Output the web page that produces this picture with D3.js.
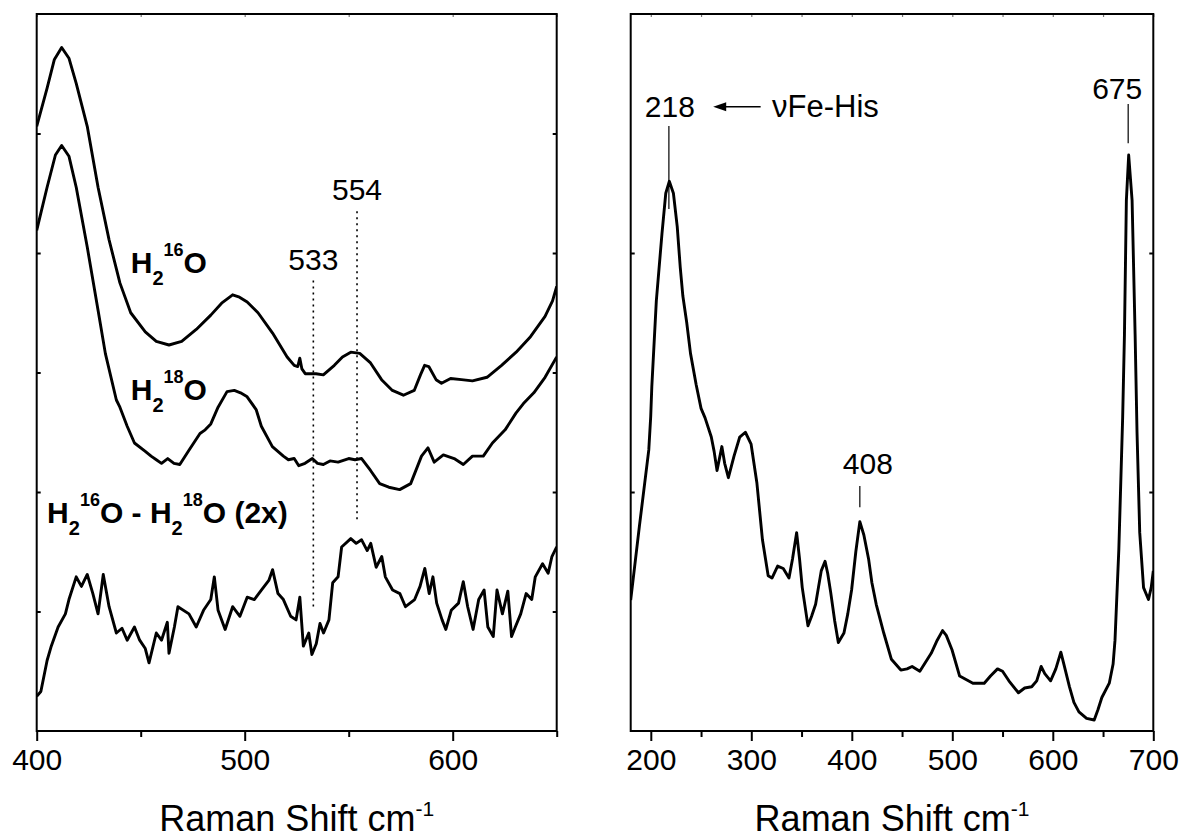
<!DOCTYPE html>
<html>
<head>
<meta charset="utf-8">
<script src="https://cdn.jsdelivr.net/npm/d3@7"></script>
<style>
  body { margin: 0; background: #fff; }
  svg text { font-family: "Liberation Sans", Arial, sans-serif; fill: #000; }
</style>
</head>
<body>
<svg id="chart" width="1184" height="840"></svg>
<script>
// left panel: [Raman shift, intensity (offset, arbitrary units)]
const h216O = [[400,5.06],[405,5.38],[408.5,5.62],[412,5.72],[415.5,5.63],[419,5.42],[424.3,5.06],[429.5,4.55],[434.8,4.11],[440,3.75],[445.2,3.50],[452.2,3.34],[457.5,3.26],[463.6,3.23],[469.7,3.26],[476.7,3.36],[483.7,3.48],[488.9,3.58],[494.2,3.65],[497.5,3.63],[501.2,3.59],[506.4,3.50],[513.4,3.33],[520.4,3.13],[523.8,3.06],[525.5,3.05],[526.5,3.12],[527.5,3.03],[529.1,2.99],[534.3,2.99],[537.8,2.98],[543.1,3.06],[547,3.13],[551,3.17],[555.3,3.16],[560.5,3.08],[565.8,2.94],[571,2.85],[576.3,2.81],[581.5,2.85],[584.5,2.98],[586.5,3.06],[588.5,3.05],[592,2.94],[594.6,2.91],[599,2.95],[604.2,2.94],[609.5,2.93],[616.5,2.96],[623.5,3.06],[630.5,3.17],[637.4,3.30],[644.4,3.47],[648,3.60],[650,3.72]];
const h218O = [[400,4.19],[405,4.55],[409,4.82],[412,4.90],[415.5,4.81],[419,4.55],[424.3,4.05],[429.5,3.52],[433,3.16],[438.3,2.77],[440,2.71],[443.5,2.55],[447,2.41],[452.2,2.34],[455,2.30],[457.5,2.27],[460,2.24],[463,2.28],[466,2.24],[468.8,2.23],[473.2,2.35],[478.5,2.49],[481,2.52],[483.7,2.57],[487.2,2.71],[491.5,2.84],[495,2.85],[498,2.83],[501,2.80],[505.5,2.69],[508,2.55],[513.3,2.38],[518.6,2.30],[521,2.27],[523.8,2.28],[526,2.22],[529,2.24],[532.5,2.28],[535,2.24],[537.8,2.23],[541,2.26],[544.9,2.25],[550,2.28],[553,2.27],[556.2,2.28],[560.5,2.18],[564.9,2.07],[569.3,2.04],[574.5,2.02],[579.8,2.07],[585,2.30],[588.1,2.37],[591.1,2.25],[595.5,2.31],[600.7,2.28],[605.1,2.23],[609.5,2.30],[614.7,2.30],[619.1,2.41],[625.2,2.52],[630.4,2.66],[634,2.74],[639,2.83],[644.4,2.96],[650,3.13]];
const diff2x = [[400,0.29],[402,0.33],[405,0.59],[407,0.71],[410.3,0.87],[413.8,0.98],[415.5,1.10],[419,1.29],[421.5,1.21],[424.3,1.31],[427,1.15],[429.5,0.98],[432,1.31],[434.8,1.04],[438.3,0.82],[441,0.86],[443.5,0.76],[447,0.87],[449.5,0.76],[452.2,0.69],[454,0.57],[457.5,0.82],[460,0.76],[462.8,0.91],[463.6,0.65],[466.2,0.87],[467.9,1.04],[473.2,0.98],[476.7,0.87],[480.2,1.01],[483.7,1.10],[485.4,1.29],[487.2,1.01],[490.6,0.85],[494.2,1.04],[497.7,0.96],[501.2,1.12],[504.6,1.10],[508.1,1.18],[511.6,1.26],[513.4,1.35],[516,1.15],[518.6,1.10],[522.1,0.96],[524.7,0.93],[526.5,1.12],[528.2,0.71],[530.8,0.82],[532.3,0.64],[534.4,0.73],[536.2,0.90],[537.9,0.82],[540.5,0.93],[542.3,1.24],[544.9,1.29],[546.6,1.54],[551,1.61],[553.6,1.57],[556.2,1.60],[558.9,1.51],[560.6,1.57],[563.2,1.37],[565.9,1.46],[567.6,1.29],[571.1,1.18],[574.6,1.15],[577.3,1.04],[581.7,1.10],[584.3,1.21],[586.6,1.36],[588.7,1.15],[590.5,1.29],[592.3,1.07],[594.9,0.93],[596.7,0.85],[599.3,1.01],[602.8,1.07],[605.1,1.25],[607.2,1.04],[609.8,0.85],[612.5,1.10],[615.1,1.18],[616.9,0.87],[619.5,0.79],[621.3,1.18],[623.9,0.98],[626.5,1.17],[628.3,0.79],[630.1,0.87],[632.7,0.98],[635.3,1.15],[638,1.10],[639.7,1.29],[643.2,1.40],[645.9,1.32],[647.7,1.46],[650,1.54]];

// right panel: [Raman shift, intensity]
const fullSpectrum = [[180,0.548],[188.6,0.855],[198,1.176],[199.9,1.315],[201,1.44],[205.5,1.80],[211.1,2.08],[214.9,2.25],[218.4,2.30],[222.5,2.25],[226.3,2.11],[229.3,1.94],[231.9,1.82],[235.7,1.71],[239.5,1.58],[245.1,1.45],[250,1.35],[254,1.31],[260.2,1.23],[263,1.17],[265.9,1.09],[270.7,1.19],[273.5,1.12],[277.2,1.06],[282.8,1.15],[288.5,1.23],[294.1,1.25],[299.8,1.20],[305.5,1.04],[311.1,0.80],[316.8,0.65],[320.6,0.64],[326.2,0.69],[331.8,0.68],[337.5,0.64],[341,0.72],[345.1,0.83],[348,0.72],[350.7,0.60],[356.4,0.44],[360,0.48],[364,0.53],[369.6,0.67],[373.4,0.71],[376,0.66],[379,0.58],[383,0.46],[386.6,0.37],[392.2,0.41],[396,0.49],[399.8,0.59],[404,0.75],[408,0.876],[412,0.82],[416.7,0.72],[420,0.62],[424.3,0.53],[431.8,0.41],[439.4,0.30],[448.8,0.255],[455,0.26],[460,0.27],[467.7,0.25],[479,0.325],[485,0.38],[490.3,0.42],[494,0.40],[499.7,0.34],[507.3,0.23],[520.5,0.20],[531.8,0.20],[538,0.23],[545,0.26],[550,0.25],[556.3,0.21],[565.8,0.16],[572,0.18],[579,0.185],[584,0.21],[588.4,0.27],[592,0.24],[597.8,0.21],[603,0.26],[608,0.33],[611,0.28],[616.6,0.185],[621,0.12],[626,0.08],[633.6,0.053],[641.2,0.046],[645,0.09],[648.8,0.14],[656.2,0.20],[660,0.28],[661.9,0.38],[665.7,0.76],[669.5,1.31],[671.3,1.66],[673.2,2.22],[675.5,2.41],[678.9,2.22],[681.9,1.66],[683.8,1.25],[686.5,0.83],[690.3,0.60],[695.2,0.55],[697.9,0.60],[700,0.67]];

// tick values
const leftMajor = [400, 500, 600];
const leftMinor = [450, 550, 650];
const rightMajor = [200, 300, 400, 500, 600, 700];
const rightMinor = [250, 350, 450, 550, 650];
const leftYTicks = [1, 2, 3, 4, 5];
const rightYTicks = [1, 2];

// annotations
const isotopeBands = [533, 554];
const peakLabels = [218, 408, 675];

const svg = d3.select("#chart");
const plotTop = 14, plotBottom = 731;

const xL = d3.scaleLinear().domain([400, 650]).range([36.7, 556.7]);
const yL = d3.scaleLinear().domain([0, 6]).range([plotBottom, plotTop]);
const xR = d3.scaleLinear().domain([180, 700]).range([630.7, 1153.3]);
const yR = d3.scaleLinear().domain([0, 3]).range([plotBottom, plotTop]);

function drawPanel(id, x, y, major, minor, yTicks) {
    const g = svg.append("g").attr("class", id);
    const [x0, x1] = x.range();

    // bottom axis: labelled major ticks + short minor ticks, both outward
    const bMajor = g.append("g").attr("transform", `translate(0,${plotBottom})`)
        .call(d3.axisBottom(x).tickValues(major).tickSize(10).tickPadding(8).tickFormat(d3.format("d")));
    const bMinor = g.append("g").attr("transform", `translate(0,${plotBottom})`)
        .call(d3.axisBottom(x).tickValues(minor).tickSize(6).tickFormat(""));
    // top mirrored ticks, inward
    const tAx = g.append("g").attr("transform", `translate(0,${plotTop})`)
        .call(d3.axisTop(x).tickValues(major.concat(minor)).tickSize(-3).tickFormat(""));
    // left/right unlabeled ticks, inward
    const lAx = g.append("g").attr("transform", `translate(${x0},0)`)
        .call(d3.axisLeft(y).tickValues(yTicks).tickSize(-4).tickFormat(""));
    const rAx = g.append("g").attr("transform", `translate(${x1},0)`)
        .call(d3.axisRight(y).tickValues(yTicks).tickSize(-4).tickFormat(""));

    [bMajor, bMinor, tAx, lAx, rAx].forEach(a => {
        a.select(".domain").remove();
        a.selectAll("line").attr("stroke", "#000").attr("stroke-width", 2);
    });
    tAx.selectAll("line").attr("stroke", "#777").attr("stroke-width", 1.2);
    bMajor.selectAll("text")
        .style("font-size", "30px")
        .style("font-family", "'Liberation Sans', Arial, sans-serif")
        .attr("fill", "#000");

    g.append("clipPath").attr("id", id + "-clip")
        .append("rect").attr("x", x0).attr("y", plotTop).attr("width", x1 - x0).attr("height", plotBottom - plotTop);

    g.append("rect")
        .attr("x", x0).attr("y", plotTop)
        .attr("width", x1 - x0).attr("height", plotBottom - plotTop)
        .attr("fill", "none").attr("stroke", "#000").attr("stroke-width", 2);

    // axis title
    const t = g.append("text")
        .attr("x", (x0 + x1) / 2).attr("y", 831)
        .attr("text-anchor", "middle")
        .style("font-size", "36px")
        .text("Raman Shift cm");
    t.append("tspan").attr("dy", -15).style("font-size", "21px").text("-1");

    return g;
}

const left = drawPanel("left", xL, yL, leftMajor, leftMinor, leftYTicks);
const right = drawPanel("right", xR, yR, rightMajor, rightMinor, rightYTicks);

// dotted lines marking the 533 / 554 bands
const bandLayout = { 533: { top: 3.77, bot: 1.04, lab: 3.86 }, 554: { top: 4.35, bot: 1.74, lab: 4.44 } };
isotopeBands.forEach(b => {
    const L = bandLayout[b];
    left.append("line")
        .attr("x1", xL(b)).attr("x2", xL(b))
        .attr("y1", yL(L.top)).attr("y2", yL(L.bot))
        .attr("stroke", "#000").attr("stroke-width", 1.6)
        .attr("stroke-dasharray", "2,4");
    left.append("text")
        .attr("x", xL(b)).attr("y", yL(L.lab))
        .attr("text-anchor", "middle")
        .style("font-size", "30px")
        .text(b);
});

// spectra
const lineL = d3.line().x(d => xL(d[0])).y(d => yL(d[1]));
const lineR = d3.line().x(d => xR(d[0])).y(d => yR(d[1]));

[h216O, h218O, diff2x].forEach(s => {
    left.append("path")
        .datum(s)
        .attr("clip-path", "url(#left-clip)")
        .attr("fill", "none").attr("stroke", "#000")
        .attr("stroke-width", 2.9).attr("stroke-linejoin", "round")
        .attr("d", lineL);
});

right.append("path")
    .datum(fullSpectrum)
    .attr("clip-path", "url(#right-clip)")
    .attr("fill", "none").attr("stroke", "#000")
    .attr("stroke-width", 2.9).attr("stroke-linejoin", "round")
    .attr("d", lineR);

// isotope labels (bold, with sub/superscripts)
function isoLabel(g, x, y, parts) {
    const t = g.append("text").attr("x", x).attr("y", y)
        .style("font-size", "30px").style("font-weight", "bold");
    let shift = 0;
    parts.forEach(p => {
        let dy = 0, size = "30px";
        if (p.sub) { dy = 12 - shift; shift = 12; size = "20px"; }
        else if (p.sup) { dy = -17 - shift; shift = -17; size = "18px"; }
        else { dy = -shift; shift = 0; }
        t.append("tspan").attr("dy", dy).style("font-size", size).text(p.t);
    });
}
const H2 = [{ t: "H" }, { t: "2", sub: true }];
isoLabel(left, xL(445.2), yL(3.83), [...H2, { t: "16", sup: true }, { t: "O" }]);
isoLabel(left, xL(445.2), yL(2.77), [...H2, { t: "18", sup: true }, { t: "O" }]);
isoLabel(left, xL(405), yL(1.74), [...H2, { t: "16", sup: true }, { t: "O - " }, ...H2, { t: "18", sup: true }, { t: "O (2x)" }]);

// right panel peak labels
const peakLayout = {
    218: { lab: 2.570, top: 2.531, bot: 2.184, dx: 1 },
    408: { lab: 1.075, top: 1.025, bot: 0.936, dx: 8 },
    675: { lab: 2.643, top: 2.623, bot: 2.459, dx: -11 }
};
peakLabels.forEach(p => {
    const L = peakLayout[p];
    right.append("line")
        .attr("x1", xR(p)).attr("x2", xR(p))
        .attr("y1", yR(L.top)).attr("y2", yR(L.bot))
        .attr("stroke", "#000").attr("stroke-width", 1.2);
    right.append("text")
        .attr("x", xR(p) + L.dx).attr("y", yR(L.lab))
        .attr("text-anchor", "middle")
        .style("font-size", "30px")
        .text(p);
});

// arrow  <-- vFe-His
const ay = yR(2.612);
right.append("line")
    .attr("x1", xR(309.3)).attr("x2", xR(266))
    .attr("y1", ay).attr("y2", ay)
    .attr("stroke", "#000").attr("stroke-width", 1.5);
const tip = xR(262.1);
right.append("path")
    .attr("d", `M${tip},${ay}L${tip + 13},${ay - 4.5}L${tip + 13},${ay + 4.5}Z`)
    .attr("fill", "#000");
right.append("text")
    .attr("x", xR(320.6)).attr("y", yR(2.570))
    .style("font-size", "31px")
    .text("\u03BDFe-His");
</script>
</body>
</html>
